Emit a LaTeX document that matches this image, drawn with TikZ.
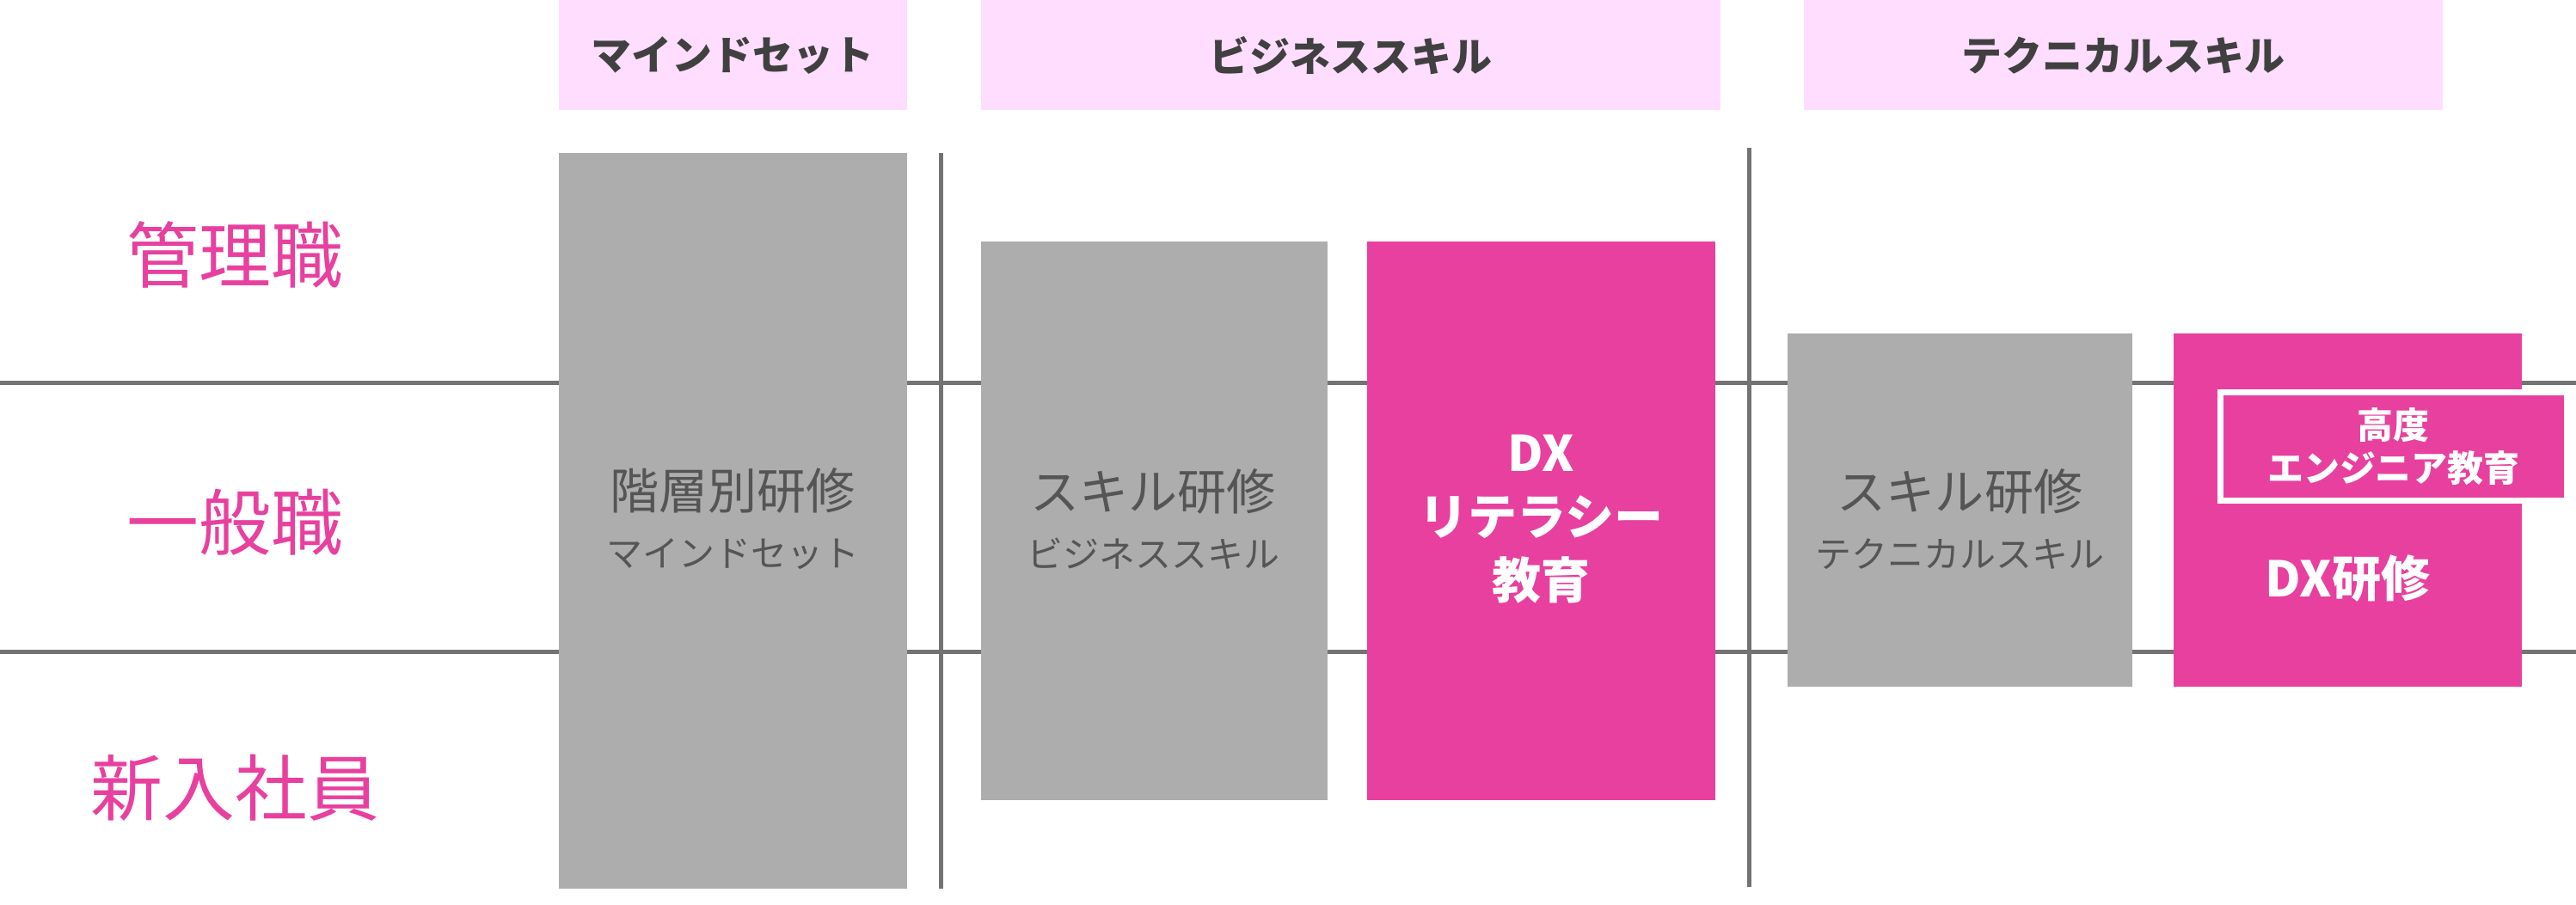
\documentclass[tikz,border=0pt]{standalone}
\usepackage{fontspec}
\setmainfont{Noto Sans CJK JP}
\definecolor{hdrpink}{HTML}{FFDDFF}
\definecolor{boxgray}{HTML}{ADADAD}
\definecolor{dxpink}{HTML}{E8409E}
\definecolor{txtgray}{HTML}{555555}
\definecolor{hdrtxt}{HTML}{404040}
\begin{document}
\begin{tikzpicture}[x=0.02cm,y=-0.02cm,
  hdr/.style={fill=hdrpink,draw=none,font=\fontsize{14}{16}\selectfont\bfseries,text=hdrtxt},
  grayblk/.style={fill=boxgray,draw=none},
  pinkblk/.style={fill=dxpink,draw=none},
  rank/.style={text=dxpink,font=\fontsize{25}{28}\selectfont},
  sep/.style={draw=gray!90!black,line width=1.5pt}]
	% bounding box
	\useasboundingbox (0,0) rectangle (1568,551);
	% rank lines
	\coordinate (l1a) at (0,233); \coordinate (l1b) at (1568,233);
	\coordinate (l2a) at (0,397); \coordinate (l2b) at (1568,397);
	\draw[sep] (l1a) -- (l1b);
	\draw[sep] (l2a) -- (l2b);
	\coordinate (v1a) at (573,93); \coordinate (v1b) at (573,541);
	\coordinate (v2a) at (1065,90); \coordinate (v2b) at (1065,540);
	\draw[sep] (v1a) -- (v1b);
	\draw[sep] (v2a) -- (v2b);
	% headers
	\foreach \xa/\xb/\name/\txt in {340/552/hmind/マインドセット,
		597/1047/hbiz/ビジネススキル,
		1098/1487/htech/テクニカルスキル}
	{\fill[hdr] (\xa,0) rectangle (\xb,67);
		\node[font=\fontsize{14}{16}\selectfont\bfseries,text=hdrtxt] (\name) at ({(\xa+\xb)/2},34) {\txt};}
	% ranks
	\node[rank] (mgr) at (143,155) {管理職};
	\node[rank] (gen) at (143,318) {一般職};
	\node[rank] (new) at (143,480) {新入社員};
	% gray blocks
	\fill[grayblk] (340,93) rectangle (552,541);
	\fill[grayblk] (597,147) rectangle (808,487);
	\fill[grayblk] (1088,203) rectangle (1298,418);
	\fill[pinkblk] (832,147) rectangle (1044,487);
	\fill[pinkblk] (1323,203) rectangle (1535,418);
	\foreach \x/\name/\main/\sub in {446/kaiso/階層別研修/マインドセット,
		702/skbiz/スキル研修/ビジネススキル,
		1193/sktech/スキル研修/テクニカルスキル}
	{\node[align=center,text=txtgray,font=\fontsize{17}{22}\selectfont] (\name) at (\x,316)
		{\main\\[-2pt]{\fontsize{12.5}{15}\selectfont\sub}};}
	\node[align=center,text=white,font=\fontsize{17}{22}\selectfont\bfseries] (dxlit) at (938,316) {DX\\リテラシー\\教育};
	\node[draw=white,line width=2pt,fill=dxpink,minimum width=211\pgflinewidth,
		inner sep=0pt,text=white,align=center,font=\fontsize{12.5}{15}\selectfont\bfseries,
		minimum width=4.22cm,minimum height=1.32cm] (adv) at (1457,272) {高度\\エンジニア教育};
	\node[text=white,font=\fontsize{17}{20}\selectfont\bfseries] (dxtr) at (1429,352) {DX研修};
\end{tikzpicture}
\end{document}
